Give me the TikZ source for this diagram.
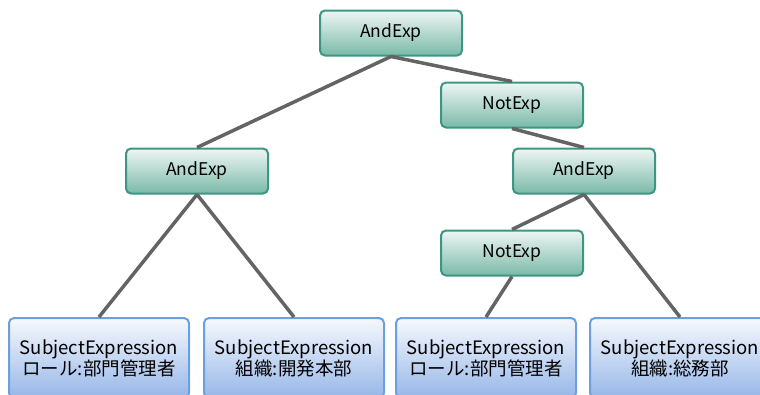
\documentclass[tikz,border=0pt]{standalone}
\usepackage{fontspec}
\setmainfont{Noto Sans CJK JP}
\begin{document}
\begin{tikzpicture}[x=1pt,y=-1pt,
    expbox/.style={draw={rgb,255:red,60;green,150;blue,130}, line width=2pt, rounded corners=5pt,
      top color={rgb,255:red,238;green,246;blue,244}, bottom color={rgb,255:red,122;green,186;blue,168},
      minimum width=142pt, minimum height=45pt, font=\fontsize{17.5}{20}\selectfont},
    subjbox/.style={draw={rgb,255:red,109;green,159;blue,221}, line width=2pt, rounded corners=5pt,
      top color={rgb,255:red,246;green,249;blue,253}, bottom color={rgb,255:red,150;green,182;blue,232},
      minimum width=180pt, minimum height=80pt, align=center, font=\fontsize{18.5}{19.5}\selectfont},
    edge/.style={draw={rgb,255:red,100;green,100;blue,100}, line width=3.5pt}]
    \useasboundingbox (0,0) rectangle (760,394);
    \node[expbox] (and0) at (391,33) {AndExp};
    \node[expbox] (not1) at (512,105) {NotExp};
    \node[expbox] (and1) at (197,171) {AndExp};
    \node[expbox] (and2) at (584,171) {AndExp};
    \node[expbox] (not2) at (512,253) {NotExp};
    \node[subjbox] (subj1) at (99,358) {SubjectExpression\\ロール:部門管理者};
    \node[subjbox] (subj2) at (294,358) {SubjectExpression\\組織:開発本部};
    \node[subjbox] (subj3) at (486,358) {SubjectExpression\\ロール:部門管理者};
    \node[subjbox] (subj4) at (680,358) {SubjectExpression\\組織:総務部};
    \draw[edge] (and0.south) -- (and1.north);
    \draw[edge] (and0.south) -- (not1.north);
    \draw[edge] (not1.south) -- (and2.north);
    \draw[edge] (and1.south) -- (subj1.north);
    \draw[edge] (and1.south) -- (subj2.north);
    \draw[edge] (and2.south) -- (not2.north);
    \draw[edge] (and2.south) -- (subj4.north);
    \draw[edge] (not2.south) -- (subj3.north);
  \end{tikzpicture}
\end{document}
